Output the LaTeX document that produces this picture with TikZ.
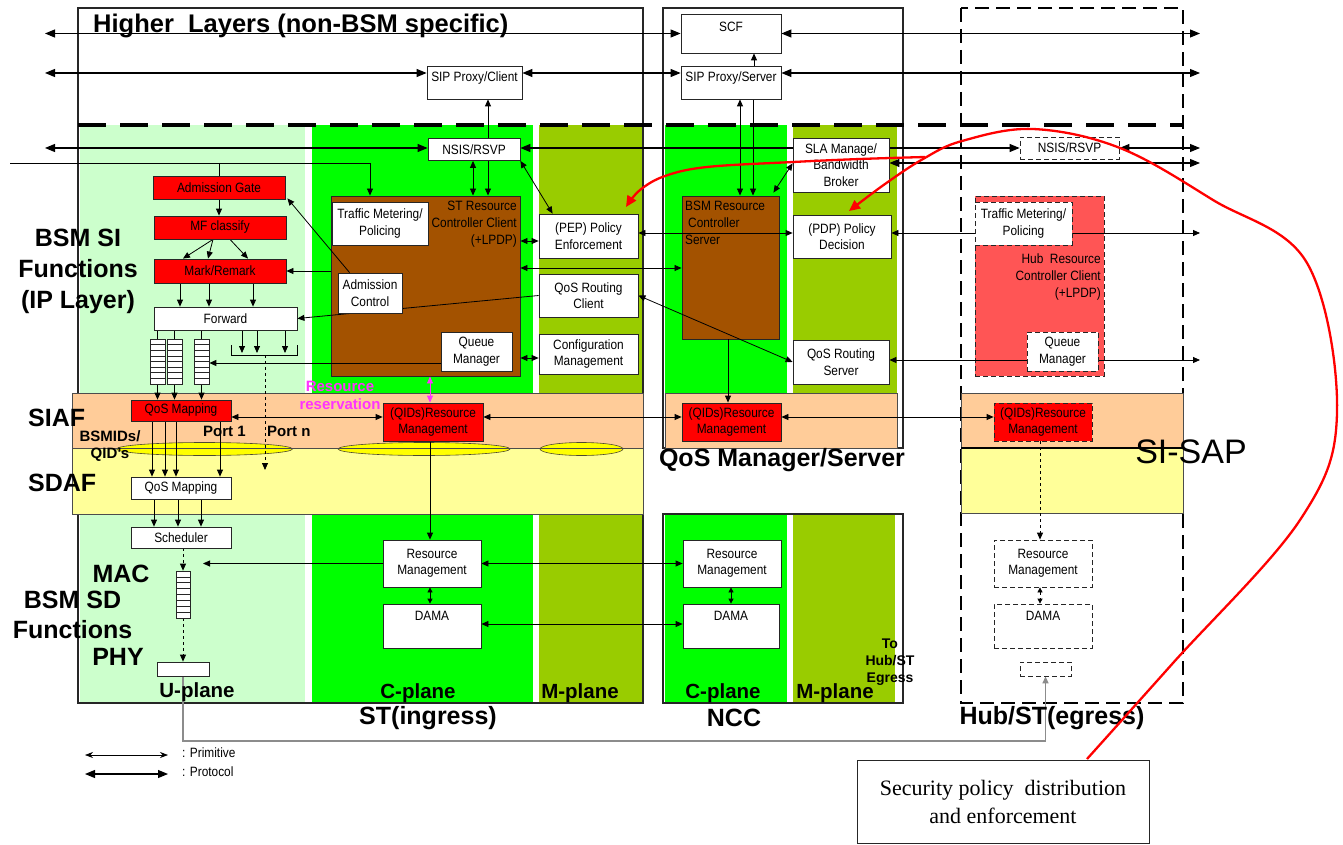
\documentclass[tikz,border=0pt]{standalone}
\usepackage{fontspec}
\setmainfont{Liberation Sans}
\newfontfamily\narrowsans[FakeStretch=0.88]{Liberation Sans}
\newfontfamily\noteserif{Liberation Serif}
\usetikzlibrary{arrows.meta,calc}
\pgfdeclarelayer{regions}
\pgfdeclarelayer{containers}
\pgfdeclarelayer{links}
\pgfsetlayers{regions,containers,links,main}

\definecolor{uplane}{RGB}{204,255,204}
\definecolor{cplane}{RGB}{0,255,0}
\definecolor{mplane}{RGB}{153,204,0}
\definecolor{siaf}{RGB}{255,204,153}
\definecolor{sdaf}{RGB}{255,255,153}
\definecolor{ctrlbrown}{RGB}{163,82,0}
\definecolor{hubred}{RGB}{255,85,85}
\definecolor{resv}{RGB}{255,51,255}
\definecolor{portyellow}{RGB}{255,255,0}

% raise a label without changing the box it reports
\newcommand\liftby[2]{\raisebox{#1}[\height][\depth]{#2}}

\tikzset{
  box/.style={draw=black!85, line width=0.8pt, fill=white, inner sep=1pt, align=center,
    font={\narrowsans\fontsize{13.5}{16.5}\selectfont}},
  redbox/.style={box, fill=red},
  dbox/.style={box, dash pattern=on 5pt off 3pt},
  dredbox/.style={redbox, dash pattern=on 5pt off 3pt},
  ctrl/.style={draw=black!85, line width=0.9pt, fill=ctrlbrown, inner sep=0pt},
  boxtext/.style={inner sep=1pt, font={\narrowsans\fontsize{13.5}{16.8}\selectfont}},
  biglabel/.style={inner sep=0pt, align=center, font={\fontsize{25}{31}\selectfont\bfseries}},
  planelabel/.style={inner sep=0pt, font={\fontsize{20.5}{25}\selectfont\bfseries}},
  smallbold/.style={inner sep=0pt, align=center, font={\fontsize{15}{18}\selectfont\bfseries}},
  queue/.style={draw=black!85, line width=0.7pt, fill=white, inner sep=0pt,
    path picture={\foreach \k in {1,...,7}{\draw[line width=0.6pt]
      ($(path picture bounding box.north west)!\k/8!(path picture bounding box.south west)$) --
      ($(path picture bounding box.north east)!\k/8!(path picture bounding box.south east)$);}}},
  link/.style={line width=0.8pt, -{Triangle[length=7pt,width=6pt]}},
  dlink/.style={line width=0.8pt, {Triangle[length=7pt,width=6pt]}-{Triangle[length=7pt,width=6pt]}},
  sdl/.style={line width=0.8pt, {Triangle[length=5pt,width=5pt]}-{Triangle[length=5pt,width=5pt]}},
  proto/.style={line width=1.1pt, {Triangle[length=10pt,width=8pt]}-{Triangle[length=10pt,width=8pt]}},
  band/.style={draw=black!70, line width=0.8pt},
  frame/.style={draw=black!85, line width=1.6pt},
  secline/.style={red, line width=2.3pt, -{Triangle[length=11pt,width=10pt]}},
}

\begin{document}
\begin{tikzpicture}[x=1pt,y=-1pt]
\useasboundingbox (0,0) rectangle (1343,845);

% ---------- planes, bands and frames ----------
\begin{pgfonlayer}{regions}
\fill[white] (0,0) rectangle (1343,845);
\fill[uplane] (80,125) rectangle (305,703);
\fill[cplane] (312,125) rectangle (533,703);
\fill[mplane] (539,125) rectangle (643,703);
\draw[frame] (78,8) rectangle (643,703);
\fill[cplane] (665,125) rectangle (787,448);
\fill[mplane] (793,125) rectangle (897,448);
\fill[cplane] (665,514) rectangle (787,703);
\fill[mplane] (793,514) rectangle (895,703);
\draw[frame] (663,8) rectangle (903,448);
\draw[frame] (663,514) rectangle (903,703);
\draw[line width=1.8pt, dash pattern=on 14pt off 7pt] (961,8) rectangle (1183,703);
% SIAF / SDAF bands
\filldraw[band, fill=siaf] (72,393) rectangle (643,448);
\filldraw[band, fill=sdaf] (72,448) rectangle (643,514);
\filldraw[band, fill=siaf] (665,393) rectangle (897,448);
\filldraw[band, fill=siaf] (961,393) rectangle (1183,448);
\filldraw[band, fill=sdaf] (961,448) rectangle (1183,513);
\draw[line width=2pt] (961,448) -- (1183,448);
% ports
\filldraw[fill=portyellow, draw=black!60!olive, line width=0.6pt] (204.5,449) ellipse [x radius=88, y radius=6.5];
\filldraw[fill=portyellow, draw=black!60!olive, line width=0.6pt] (424,449) ellipse [x radius=86, y radius=6.5];
\filldraw[fill=portyellow, draw=black!60!olive, line width=0.6pt] (581.5,449) ellipse [x radius=41.5, y radius=6.5];
\draw[band] (72,448) -- (643,448);
% boundary of the higher layers
\draw[line width=3.5pt, dash pattern=on 28pt off 14pt] (78,125) -- (1183,125);
\end{pgfonlayer}

% ---------- resource controllers ----------
\begin{pgfonlayer}{containers}
\node[ctrl, minimum width=189, minimum height=180] (stctrl) at (425.5,286) {};
\node[ctrl, minimum width=97, minimum height=143] (bsm) at (730.5,267.5) {};
\node[ctrl, fill=hubred, dash pattern=on 5pt off 3pt, minimum width=129, minimum height=180] (hubctrl) at (1039.5,286) {};
\end{pgfonlayer}

% ---------- higher layers ----------
\node[anchor=base west, inner sep=0pt, font={\fontsize{25.5}{30}\selectfont\bfseries}] (hltitle) at (93,33) {Higher\ \ Layers (non-BSM specific)};
\node[box, minimum width=100, minimum height=39] (scf) at (731,33.5) {\liftby{7pt}{SCF}};
\node[box, minimum width=95, minimum height=33] (sipc) at (474.5,82.5) {\liftby{4.5pt}{SIP Proxy/Client}};
\node[box, minimum width=100, minimum height=33] (sips) at (731,82.5) {\liftby{4.5pt}{SIP Proxy/Server}};
\node[box, minimum width=92, minimum height=22] (nsis) at (474,149.5) {NSIS/RSVP};
\node[dbox, minimum width=99, minimum height=22] (hnsis) at (1069.5,148) {NSIS/RSVP};

% ---------- ST user plane ----------
\node[redbox, minimum width=132, minimum height=23] (agate) at (219,187.5) {Admission Gate};
\node[redbox, minimum width=132, minimum height=23] (mfc) at (220,227.5) {MF classify};
\node[redbox, minimum width=132, minimum height=24] (mark) at (220,271) {Mark/Remark};
\node[box, minimum width=143, minimum height=23] (fwd) at (225.5,318.5) {Forward};
\node[queue, minimum width=15, minimum height=45] (q1) at (157.5,361.5) {};
\node[queue, minimum width=15, minimum height=45] (q2) at (174.5,361.5) {};
\node[queue, minimum width=15, minimum height=45] (q3) at (201.5,361.5) {};
\node[redbox, minimum width=100, minimum height=21] (qmap1) at (181,410.5) {QoS Mapping};
\node[box, minimum width=100, minimum height=22] (qmap2) at (181,488) {QoS Mapping};
\node[box, minimum width=100, minimum height=21] (sched) at (181,537.5) {Scheduler};
\node[queue, minimum width=14, minimum height=47] (macq) at (183,594.5) {};
\node[box, minimum width=52, minimum height=14] (phy) at (183,669) {};

% ---------- ST control and management planes ----------
\node[boxtext, anchor=north east, align=right] (stctrltxt) at (518,200) {ST Resource\\Controller Client\\(+LPDP)};
\node[box, minimum width=96, minimum height=43] (tm) at (380,223.5) {Traffic Metering/\\Policing};
\node[box, minimum width=64, minimum height=40] (ac) at (370,293) {Admission\\Control};
\node[box, minimum width=71, minimum height=39] (qm) at (476.5,351.5) {Queue\\Manager};
\node[box, minimum width=99, minimum height=44] (pep) at (588.5,236) {(PEP) Policy\\Enforcement};
\node[box, minimum width=99, minimum height=43] (qrc) at (588.5,295.5) {QoS Routing\\Client};
\node[box, minimum width=99, minimum height=40] (cfg) at (588.5,354) {Configuration\\Management};
\node[redbox, minimum width=100, minimum height=38] (qids1) at (433,422) {(QIDs)Resource\\Management};
\node[box, minimum width=98, minimum height=47] (rm1) at (432,563.5) {Resource\\Management};
\node[box, minimum width=98, minimum height=44] (dama1) at (432,626) {\liftby{10pt}{DAMA}};

% ---------- NCC ----------
\node[boxtext, anchor=north west, align=left] (bsmtxt) at (684,200) {BSM Resource\\\hspace*{3pt}Controller\\Server};
\node[box, minimum width=96, minimum height=54] (sla) at (841,165) {SLA Manage/\\Bandwidth\\Broker};
\node[box, minimum width=98, minimum height=43] (pdp) at (842,236.5) {(PDP) Policy\\Decision};
\node[box, minimum width=96, minimum height=44] (qrs) at (841,362) {QoS Routing\\Server};
\node[redbox, minimum width=99, minimum height=38] (qids2) at (731.5,422) {(QIDs)Resource\\Management};
\node[box, minimum width=98, minimum height=47] (rm2) at (732,563.5) {Resource\\Management};
\node[box, minimum width=96, minimum height=44] (dama2) at (731,626) {\liftby{10pt}{DAMA}};

% ---------- Hub / ST egress ----------
\node[boxtext, anchor=north east, align=right] (hubtxt) at (1102,253) {Hub\ \ Resource\\Controller Client\\(+LPDP)};
\node[dbox, minimum width=97, minimum height=43] (htm) at (1023.5,223.5) {Traffic Metering/\\Policing};
\node[dbox, minimum width=71, minimum height=39] (hqm) at (1062.5,351.5) {Queue\\Manager};
\node[dredbox, minimum width=98, minimum height=38] (qids3) at (1043,422) {(QIDs)Resource\\Management};
\node[dbox, minimum width=98, minimum height=47] (rm3) at (1043,563.5) {Resource\\Management};
\node[dbox, minimum width=98, minimum height=44] (dama3) at (1043,626) {\liftby{10pt}{DAMA}};
\node[dbox, minimum width=51, minimum height=14] (egbox) at (1045.5,669) {};

% ---------- labels ----------
\node[biglabel] (sifn) at (78,271) {BSM SI\\Functions\\(IP Layer)};
\node[biglabel, anchor=west] (siaflbl) at (28,418) {SIAF};
\node[biglabel, anchor=west] (sdaflbl) at (28,483) {SDAF};
\node[smallbold, font={\fontsize{15}{17}\selectfont\bfseries}] (bsmid) at (110,446) {BSMIDs/\\QID’s};
\node[smallbold, anchor=west] (port1) at (203,431) {Port 1};
\node[smallbold, anchor=west] (portn) at (267,431) {Port n};
\node[smallbold, text=resv] (resvlbl) at (340,395) {Resource\\reservation};
\node[biglabel] (maclbl) at (121,574) {MAC};
\node[biglabel] (sdlbl) at (72.5,600) {BSM SD};
\node[biglabel] (sdfn) at (72.5,630) {Functions};
\node[biglabel] (phylbl) at (118,657) {PHY};
\node[planelabel] (upl) at (197,692) {U-plane};
\node[planelabel] (cpl1) at (418,693) {C-plane};
\node[planelabel] (mpl1) at (580,693) {M-plane};
\node[planelabel] (cpl2) at (723,693) {C-plane};
\node[planelabel] (mpl2) at (835,693) {M-plane};
\node[biglabel] (stlbl) at (428,718) {ST(ingress)};
\node[biglabel] (ncclbl) at (734,718) {NCC};
\node[biglabel] (hublbl) at (1052,718) {Hub/ST(egress)};
\node[biglabel] (qmslbl) at (782,460) {QoS Manager/Server};
\node[inner sep=0pt, align=center, font={\fontsize{14}{17}\selectfont\bfseries}] (toeg) at (890,662) {To\\Hub/ST\\Egress};
\node[inner sep=0pt, font={\fontsize{34}{40}\selectfont}] (sisap) at (1191,452) {SI-SAP};
\node[draw=black!85, line width=1pt, fill=white, minimum width=292, minimum height=83, align=center,
  font={\noteserif\fontsize{22}{28}\selectfont}] (sec) at (1003,801.5) {Security policy\ \ distribution\\and enforcement};

% legend
\coordinate (lga) at (85,755); \coordinate (lgb) at (168,755);
\coordinate (lgc) at (85,774); \coordinate (lgd) at (168,774);
\node[boxtext, anchor=west] (lgprim) at (181,753) {: Primitive};
\node[boxtext, anchor=west] (lgproto) at (181,772) {: Protocol};

% ---------- connectors ----------
\begin{pgfonlayer}{links}
\draw[line width=0.7pt, {Stealth[length=8pt,width=6pt]}-{Stealth[length=8pt,width=6pt]}] (lga) -- (lgb);
\draw[proto] (lgc) -- (lgd);
% higher layer signalling
\coordinate (l1) at (45,33.5); \coordinate (r1) at (1200,33.5);
\draw[proto] (l1) -- (scf.west);
\draw[proto] (scf.east) -- (r1);
\coordinate (l2) at (45,73); \coordinate (r2) at (1200,73);
\draw[proto] (l2) -- (sipc.west|-l2);
\draw[proto] (sipc.east|-l2) -- (sips.west|-l2);
\draw[proto] (sips.east|-l2) -- (r2);
\draw[link] (754,0 |- sips.north) -- (754,0 |- scf.south);
\draw[dlink] (740,0 |- sips.south) -- (740,0 |- bsm.north);
\draw[link] (753,0 |- sips.south) -- (753,0 |- bsm.north);
\draw[dlink] (488,0 |- sipc.south) -- (488,0 |- stctrl.north);
\draw[dlink] (473,0 |- nsis.south) -- (473,0 |- stctrl.north);
\coordinate (l3) at (45,148); \coordinate (r3) at (1200,148);
\draw[proto] (l3) -- (nsis.west|-l3);
\draw[proto] (nsis.east|-l3) -- (hnsis.west|-l3);
\draw[proto] (hnsis.east|-l3) -- (r3);
\coordinate (l4) at (10,163); \coordinate (r4) at (1200,163); \coordinate (j4) at (370,163);
\draw[link] (l4) -- (j4) -- (j4|-stctrl.north);
\draw[line width=0.8pt] (agate.north|-l4) -- (agate.north);
\draw[proto] (sla.east|-l4) -- (r4);
\draw[dlink] ($(bsm.north east)+(-6,-3)$) -- ($(sla.south west)+(0,-29)$);
% ST control plane
\draw[dlink] (nsis.south east) -- ($(pep.north west)+(14,0)$);
\draw[dlink] (stctrl.east|-0,241) -- (pep.west|-0,241);
\draw[dlink] (stctrl.east|-0,268) -- (bsm.west|-0,268);
\draw[dlink] (pep.east|-0,233) -- (pdp.west|-0,233);
\draw[dlink] (qrc.east) -- (qrs.west);
\draw[dlink] (stctrl.east|-0,358) -- (cfg.west|-0,358);
\draw[link] ($(ac.north west)+(12,0)$) -- ($(agate.south east)+(2,-1)$);
\draw[link] (stctrl.west|-mark.east) -- (mark.east);
\draw[link] (qrc.west) -- (fwd.east);
\draw[link] (qm.west|-0,363) -- (q3.east|-0,363);
% ST user plane
\draw[link] (agate.south) -- (agate.south|-mfc.north);
\draw[link] (213,0 |- mfc.south) -- (183,0 |- mark.north);
\draw[link] (213,0 |- mfc.south) -- (208,0 |- mark.north);
\draw[link] (230,0 |- mfc.south) -- (248,0 |- mark.north);
\foreach \x in {180,209,253} \draw[link] (\x,0 |- mark.south) -- (\x,0 |- fwd.north);
\foreach \q in {q1,q2,q3} \draw[line width=0.8pt] (\q.north|-fwd.south) -- (\q.north);
\foreach \q in {q1,q2,q3} \draw[link] (\q.south) -- (\q.south|-qmap1.north);
\foreach \x in {242,257,285} \draw[link] (\x,0 |- fwd.south) -- (\x,353);
\coordinate (bra) at (231,345); \coordinate (brb) at (297,345); \coordinate (brm) at (265,355);
\draw[line width=0.8pt] (bra) -- (bra|-brm) -- (brb|-brm) -- (brb);
\draw[link, dashed] (brm) -- (brm|-0,470);
\foreach \x in {152,165,176,220} \draw[link] (\x,0 |- qmap1.south) -- (\x,0 |- qmap2.north);
\foreach \x in {154,178,201} \draw[link] (\x,0 |- qmap2.south) -- (\x,0 |- sched.north);
\draw[link, dashed] (macq.north|-sched.south) -- (macq.north);
\draw[link, dashed] (macq.south) -- (phy.north);
\draw[link] (rm1.west) -- (203,0 |- rm1.west);
% SIAF
\draw[dlink] (qmap1.east|-0,417) -- (qids1.west|-0,417);
\draw[dlink] (qids1.east|-0,417) -- (qids2.west|-0,417);
\draw[dlink] (qids2.east|-0,417) -- (qids3.west|-0,417);
\draw[dlink, resv] (430,0 |- stctrl.south) -- (430,0 |- qids1.north);
\draw[link] (430,0 |- qids1.south) -- (430,0 |- rm1.north);
\draw[link] (728,0 |- bsm.south) -- (728,0 |- qids2.north);
\draw[link, dashed] (1040,0 |- qids3.south) -- (1040,0 |- rm3.north);
% lower control plane
\draw[sdl] (430,0 |- rm1.south) -- (430,0 |- dama1.north);
\draw[sdl] (731,0 |- rm2.south) -- (731,0 |- dama2.north);
\draw[sdl, dashed] (1040,0 |- rm3.south) -- (1040,0 |- dama3.north);
\draw[dlink] (rm1.east) -- (rm2.west);
\draw[dlink] (dama1.east|-0,624) -- (dama2.west|-0,624);
% towards the hub
\draw[link] (htm.west|-0,233) -- (pdp.east|-0,233);
\draw[link] (htm.east|-0,233) -- (1200,233);
\draw[link] (hqm.west|-0,360) -- (qrs.east|-0,360);
\draw[link] (hqm.east|-0,360) -- (1200,360);
\coordinate (gy) at (0,741);
\draw[link, draw=black!45, line width=1.5pt] (phy.south) -- (phy.south|-gy) -- (egbox.south|-gy) -- (egbox.south);
\end{pgfonlayer}

% ---------- security policy distribution ----------
\draw[secline] plot[smooth, tension=0.6] coordinates {(1087,759) (1173,663) (1300,520) (1337,413) (1307,263) (1213,200) (1120,148) (1033,129) (962,141) (923,159) (885,184) (849,211)};
\draw[secline] plot[smooth, tension=0.6] coordinates {(925,157) (860,159) (793,162) (707,167) (665,176) (640,190) (626,207)};
\end{tikzpicture}
\end{document}
